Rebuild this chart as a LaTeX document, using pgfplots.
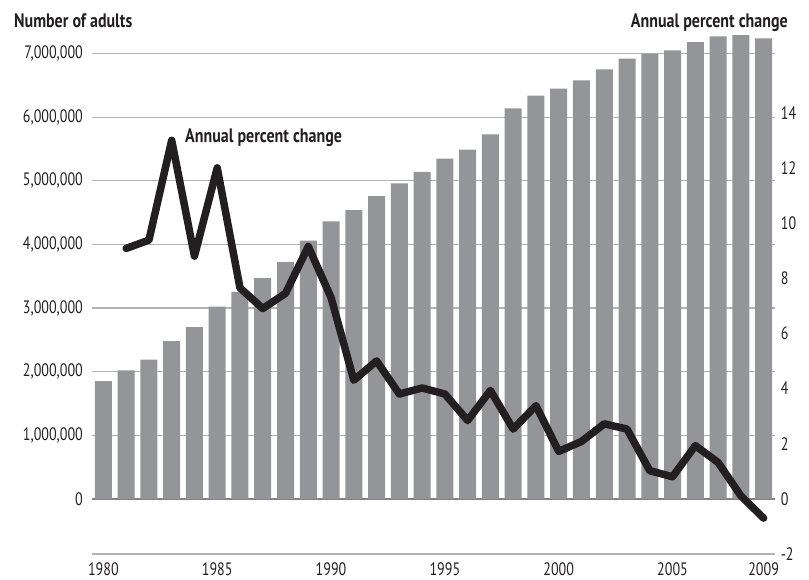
\documentclass[border=0pt]{standalone}
\usepackage{fontspec}
\setmainfont{PT Sans}[FakeStretch=0.82]
\newfontfamily\tickfont{PT Sans}[FakeStretch=0.78]
\usepackage{pgfplots}
\pgfplotsset{compat=1.18}
\definecolor{bargray}{HTML}{939598}
\definecolor{gridgray}{HTML}{B1B3B6}
\definecolor{zerogray}{HTML}{808285}
\definecolor{linecol}{HTML}{231F20}
\definecolor{textcol}{HTML}{231F20}
\begin{document}
\fontsize{17}{20}\selectfont
\begin{tikzpicture}
\useasboundingbox (-92pt,-26pt) rectangle (717pt,554pt);
\begin{axis}[
  at={(0pt,0pt)}, anchor=south west,
  scale only axis, width=683pt, height=524pt,
  xmin=1979.5, xmax=2009.5,
  ymin=-867100, ymax=7370350,
  axis line style={draw=none},
  major tick length=0pt,
  ytick={0,1000000,2000000,3000000,4000000,5000000,6000000,7000000},
  ymajorgrids, grid style={gridgray, line width=1.3pt},
  extra y ticks={0}, extra y tick labels={},
  extra y tick style={grid style={zerogray, line width=1.6pt}},
  scaled y ticks=false,
  /pgf/number format/assume math mode=true,
  yticklabel style={/pgf/number format/fixed, /pgf/number format/1000 sep={,}, xshift=-3.3pt},
  xtick={1980,1985,1990,1995,2000,2005,2009},
  xticklabel style={/pgf/number format/1000 sep={}, yshift=-3pt},
  ticklabel style={font=\tickfont\fontsize{18}{20}\selectfont, text=textcol},
  ybar, bar width=17pt,
  clip=false,
]
\addplot[fill=bargray, draw=none] coordinates {
(1980,1850000) (1981,2020000) (1982,2190000) (1983,2480000) (1984,2700000)
(1985,3020000) (1986,3250000) (1987,3470000) (1988,3720000) (1989,4060000)
(1990,4360000) (1991,4540000) (1992,4760000) (1993,4960000) (1994,5140000)
(1995,5350000) (1996,5490000) (1997,5730000) (1998,6140000) (1999,6340000)
(2000,6450000) (2001,6580000) (2002,6750000) (2003,6920000) (2004,7000000)
(2005,7050000) (2006,7180000) (2007,7270000) (2008,7290000) (2009,7240000)
};
\draw[gridgray, line width=1.3pt] (rel axis cs:0,0) -- (rel axis cs:1,0);
\end{axis}
\begin{axis}[
  at={(0pt,0pt)}, anchor=south west,
  scale only axis, width=683pt, height=524pt,
  xmin=1979.5, xmax=2009.5,
  ymin=-2, ymax=17,
  axis y line*=right, axis x line=none,
  y axis line style={draw=none},
  major tick length=0pt,
  ytick={-2,0,2,4,6,8,10,12,14},
  /pgf/number format/assume math mode=true,
  ticklabel style={font=\tickfont\fontsize{18}{20}\selectfont, text=textcol},
  clip=false,
]
\addplot[linecol, line width=7.5pt, line join=round, line cap=round] coordinates {
(1981,9.08) (1982,9.38) (1983,13.0) (1984,8.8) (1985,12.0) (1986,7.65)
(1987,6.9) (1988,7.45) (1989,9.15) (1990,7.3) (1991,4.3) (1992,5.0)
(1993,3.8) (1994,4.02) (1995,3.8) (1996,2.84) (1997,3.93) (1998,2.53)
(1999,3.38) (2000,1.72) (2001,2.08) (2002,2.72) (2003,2.53) (2004,1.02)
(2005,0.8) (2006,1.93) (2007,1.32) (2008,0.11) (2009,-0.7)
};
\end{axis}
\node[anchor=base west, inner sep=0pt, text=textcol, font=\bfseries\fontsize{19.5}{22}\selectfont] at (-78pt,526pt) {Number of adults};
\node[anchor=base east, inner sep=0pt, text=textcol, font=\bfseries\fontsize{19.5}{22}\selectfont] at (696pt,526pt) {Annual percent change};
\node[anchor=base west, inner sep=0pt, text=textcol, font=\bfseries\fontsize{19.5}{22}\selectfont] at (93pt,411pt) {Annual percent change};
\end{tikzpicture}
\end{document}
